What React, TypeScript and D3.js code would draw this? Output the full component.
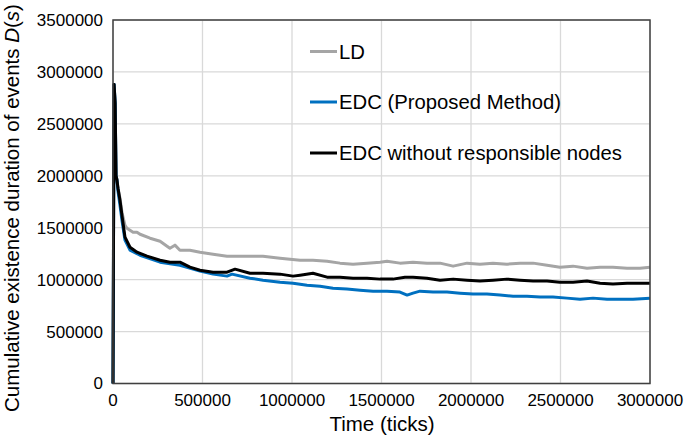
import React from "react";
import * as d3 from "d3";

// ---- data ----
const xTicks = [0, 500000, 1000000, 1500000, 2000000, 2500000, 3000000];
const yTicks = [0, 500000, 1000000, 1500000, 2000000, 2500000, 3000000, 3500000];

const seriesNames = ["LD", "EDC (Proposed Method)", "EDC without responsible nodes"];

const ldTime = [0, 6000, 12000, 17000, 22000, 28000, 39000, 50000, 67000, 78000, 112000, 134000, 151000, 207000, 263000, 302000, 318000, 346000, 374000, 430000, 486000, 559000, 637000, 710000, 765000, 838000, 933000, 1045000, 1117000, 1196000, 1268000, 1341000, 1419000, 1492000, 1531000, 1603000, 1676000, 1754000, 1827000, 1900000, 1978000, 2050000, 2123000, 2201000, 2274000, 2347000, 2425000, 2497000, 2570000, 2648000, 2721000, 2793000, 2872000, 2944000, 3000000];
const ldValue = [0, 2880000, 2700000, 2000000, 1960000, 1880000, 1783000, 1649000, 1524000, 1495000, 1457000, 1457000, 1437000, 1399000, 1370000, 1322000, 1303000, 1332000, 1283000, 1283000, 1264000, 1245000, 1226000, 1226000, 1226000, 1226000, 1207000, 1187000, 1187000, 1178000, 1159000, 1149000, 1159000, 1168000, 1178000, 1159000, 1168000, 1159000, 1159000, 1130000, 1159000, 1149000, 1159000, 1149000, 1159000, 1159000, 1139000, 1120000, 1130000, 1110000, 1120000, 1120000, 1110000, 1110000, 1120000];

const edcTime = [0, 6000, 12000, 17000, 22000, 28000, 39000, 50000, 67000, 95000, 151000, 263000, 374000, 486000, 559000, 637000, 665000, 765000, 838000, 933000, 1006000, 1084000, 1157000, 1229000, 1307000, 1380000, 1453000, 1531000, 1603000, 1643000, 1676000, 1715000, 1788000, 1866000, 1939000, 2011000, 2089000, 2162000, 2235000, 2313000, 2386000, 2458000, 2536000, 2609000, 2682000, 2760000, 2833000, 2905000, 3000000];
const edcValue = [0, 2880000, 2700000, 2000000, 1960000, 1850000, 1716000, 1572000, 1380000, 1284000, 1235000, 1168000, 1139000, 1082000, 1053000, 1034000, 1053000, 1014000, 995000, 976000, 966000, 947000, 937000, 918000, 909000, 899000, 889000, 889000, 880000, 851000, 870000, 889000, 880000, 880000, 870000, 861000, 861000, 851000, 841000, 841000, 832000, 832000, 822000, 812000, 822000, 812000, 812000, 812000, 822000];

const noRespTime = [0, 6000, 12000, 17000, 22000, 28000, 39000, 50000, 67000, 95000, 134000, 190000, 263000, 318000, 374000, 430000, 486000, 559000, 637000, 682000, 765000, 838000, 933000, 1006000, 1045000, 1117000, 1196000, 1268000, 1341000, 1419000, 1492000, 1564000, 1631000, 1676000, 1754000, 1827000, 1900000, 1978000, 2050000, 2123000, 2201000, 2274000, 2347000, 2425000, 2497000, 2570000, 2648000, 2721000, 2793000, 2872000, 2944000, 3000000];
const noRespValue = [0, 2880000, 2700000, 2000000, 1960000, 1880000, 1764000, 1620000, 1409000, 1312000, 1264000, 1226000, 1187000, 1168000, 1168000, 1120000, 1091000, 1072000, 1072000, 1101000, 1062000, 1062000, 1053000, 1034000, 1043000, 1062000, 1024000, 1024000, 1014000, 1014000, 1005000, 1005000, 1024000, 1024000, 1014000, 995000, 1005000, 995000, 986000, 995000, 1005000, 995000, 986000, 986000, 976000, 976000, 986000, 966000, 957000, 966000, 966000, 966000];

const seriesColors = ["#A5A5A5", "#0070C0", "#000000"];

const W = 685;
const H = 439;
const M = { left: 113, right: 650, top: 20, bottom: 383.5 };
const FONT = "'Liberation Sans', Arial, sans-serif";

export default function App() {
  const x = d3.scaleLinear().domain([0, 3000000]).range([M.left, M.right]);
  const y = d3.scaleLinear().domain([0, 3500000]).range([M.bottom, M.top]);

  const series = [
    { name: seriesNames[0], t: ldTime, v: ldValue, color: seriesColors[0] },
    { name: seriesNames[1], t: edcTime, v: edcValue, color: seriesColors[1] },
    { name: seriesNames[2], t: noRespTime, v: noRespValue, color: seriesColors[2] },
  ];

  const line = d3
    .line<[number, number]>()
    .x((d) => x(d[0]))
    .y((d) => y(d[1]));

  const legendY = [51.5, 102, 153];

  return (
    <svg
      width={W}
      height={H}
      style={{ position: "absolute", left: 0, top: 0, background: "#fff" }}
      fontFamily={FONT}
    >
      <rect x={0} y={0} width={W} height={H} fill="#fff" />
      {/* gridlines */}
      {yTicks.map((t) => (
        <line key={"gy" + t} x1={M.left} x2={M.right} y1={y(t)} y2={y(t)} stroke="#D9D9D9" strokeWidth={1.3} />
      ))}
      {xTicks.map((t) => (
        <line key={"gx" + t} x1={x(t)} x2={x(t)} y1={M.top} y2={M.bottom} stroke="#D9D9D9" strokeWidth={1.3} />
      ))}

      {/* series */}
      {series.map((s) => (
        <path
          key={s.name}
          d={line(s.t.map((t, i) => [t, s.v[i]] as [number, number])) || ""}
          fill="none"
          stroke={s.color}
          strokeWidth={3}
          strokeLinejoin="round"
        />
      ))}

      {/* frame */}
      <rect x={M.left} y={M.top} width={M.right - M.left} height={M.bottom - M.top} fill="none" stroke="#404040" strokeWidth={1.5} />

      {/* y tick labels */}
      {yTicks.map((t) => (
        <text key={"ly" + t} x={103} y={y(t)} dy="0.35em" textAnchor="end" fontSize={17} fill="#000">
          {t}
        </text>
      ))}
      {/* x tick labels */}
      {xTicks.map((t) => (
        <text key={"lx" + t} x={x(t)} y={406} textAnchor="middle" fontSize={17} fill="#000">
          {t}
        </text>
      ))}

      {/* axis titles */}
      <text x={382} y={431} textAnchor="middle" fontSize={20.5} fill="#000">
        Time (ticks)
      </text>
      <text transform={`translate(19, ${208}) rotate(-90)`} textAnchor="middle" fontSize={20.5} fill="#000">
        Cumulative existence duration of events <tspan fontStyle="italic">D</tspan>(<tspan fontStyle="italic">s</tspan>)
      </text>

      {/* legend */}
      {series.map((s, i) => (
        <g key={"lg" + i}>
          <line x1={310} x2={337} y1={legendY[i]} y2={legendY[i]} stroke={s.color} strokeWidth={3} />
          <text x={339} y={legendY[i]} dy="0.35em" fontSize={20.3} fill="#000">
            {s.name}
          </text>
        </g>
      ))}
    </svg>
  );
}
